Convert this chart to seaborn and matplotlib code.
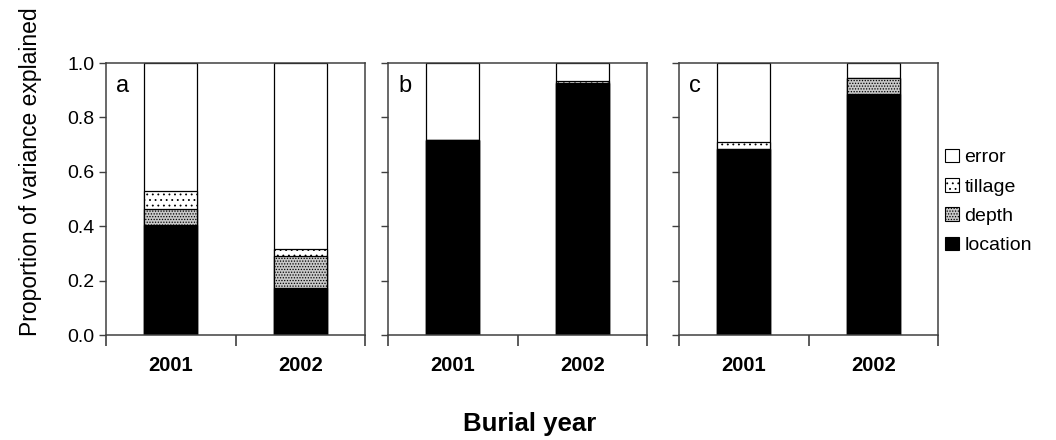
import pandas as pd
import matplotlib
matplotlib.use("Agg")
import matplotlib.pyplot as plt
from matplotlib.patches import Patch
import seaborn as sns

years = ["2001", "2002"]
panels = ["a", "b", "c"]
components = ["location", "depth", "tillage", "error"]

# proportion of variance per component, per panel, per year (2001, 2002)
location = {"a": [0.404, 0.174], "b": [0.716, 0.928], "c": [0.684, 0.887]}
depth = {"a": [0.060, 0.115], "b": [0.000, 0.000], "c": [0.000, 0.057]}
tillage = {"a": [0.066, 0.026], "b": [0.000, 0.006], "c": [0.024, 0.000]}

sns.set_style("ticks")
plt.rcParams["font.family"] = ["Liberation Sans", "DejaVu Sans"]
plt.rcParams["hatch.linewidth"] = 0.6
plt.rcParams["text.color"] = "black"
plt.rcParams["xtick.labelcolor"] = "black"
plt.rcParams["ytick.labelcolor"] = "black"
spine_col = "#404040"

styles = {
    "error": dict(color="white", hatch=None),
    "tillage": dict(color="white", hatch="..."),
    "depth": dict(color="#c8c8c8", hatch="......"),
    "location": dict(color="black", hatch=None),
}

fig = plt.figure(figsize=(10.56, 4.4), dpi=100)
lefts = [106, 388, 679]
axes = []
for p, left in zip(panels, lefts):
    ax = fig.add_axes([left / 1056, 1 - 335 / 440, 259 / 1056, 272 / 440])
    axes.append(ax)
    rows = []
    for i, y in enumerate(years):
        loc = location[p][i]
        dep = depth[p][i]
        til = tillage[p][i]
        rows.append({"year": y, "component": "error", "top": 1.0})
        rows.append({"year": y, "component": "tillage", "top": loc + dep + til})
        rows.append({"year": y, "component": "depth", "top": loc + dep})
        rows.append({"year": y, "component": "location", "top": loc})
    df = pd.DataFrame(rows)
    # draw cumulative tops from tallest to shortest so each overlays the last
    for comp in ["error", "tillage", "depth", "location"]:
        sub = df[df["component"] == comp]
        st = styles[comp]
        sns.barplot(data=sub, x="year", y="top", order=years, color=st["color"],
                    hatch=st["hatch"], edgecolor="black", linewidth=0.9,
                    width=0.41, saturation=1, errorbar=None, ax=ax)

    ax.set_xlim(-0.5, 1.5)
    ax.set_ylim(0, 1.0)
    ax.set_yticks([0, 0.2, 0.4, 0.6, 0.8, 1.0])
    ax.set_xticks([-0.5, 0.5, 1.5])
    ax.set_xticklabels([])
    ax.set_xticks([0, 1], minor=True)
    ax.set_xticklabels(years, minor=True, fontsize=14.5, fontweight="bold")
    ax.tick_params(axis="x", which="minor", length=0, pad=15)
    ax.tick_params(axis="x", which="major", length=8, width=1.2, color=spine_col)
    ax.tick_params(axis="y", length=5, width=1, color=spine_col, labelsize=14)
    ax.set_xlabel("")
    ax.set_ylabel("")
    for s in ax.spines.values():
        s.set_color(spine_col)
        s.set_linewidth(1.1)
    ax.text(0.04, 0.915, p, transform=ax.transAxes, fontsize=17, va="center")
    if p != "a":
        ax.set_yticklabels([])
    else:
        ax.set_yticklabels(["0.0", "0.2", "0.4", "0.6", "0.8", "1.0"])

fig.text(0.029, 1 - 172 / 440, "Proportion of variance explained", fontsize=16.5,
         rotation=90, ha="center", va="center")
fig.text(0.502, 1 - 424 / 440, "Burial year", fontsize=18.5, fontweight="bold",
         ha="center", va="center")

handles = [Patch(facecolor=styles[c]["color"], hatch=styles[c]["hatch"],
                 edgecolor="black", linewidth=0.8, label=c)
           for c in ["error", "tillage", "depth", "location"]]
fig.legend(handles=handles, loc="center left", bbox_to_anchor=(0.882, 0.542),
           frameon=False, fontsize=14, handlelength=0.7, handleheight=0.7,
           handletextpad=0.3, labelspacing=0.6, borderpad=0.2)

fig.savefig("out.png", dpi=100)
